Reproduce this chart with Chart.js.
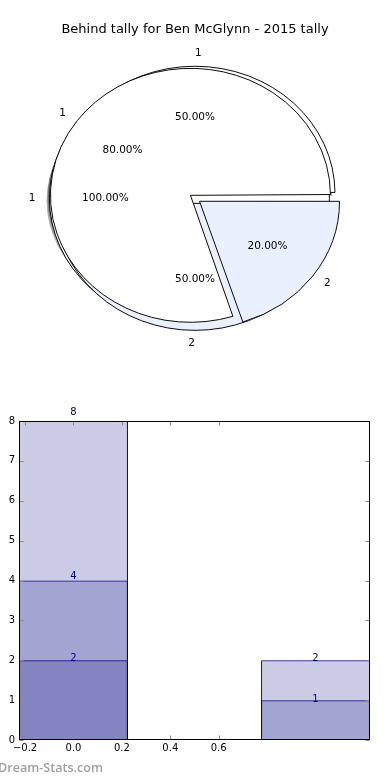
<!DOCTYPE html>
<html>
<head>
<meta charset="utf-8">
<script src="https://cdn.jsdelivr.net/npm/chart.js@4.4.0/dist/chart.umd.min.js"></script>
<style>
  html, body { margin: 0; padding: 0; background: #fff; }
  body { width: 390px; height: 780px; position: relative; overflow: hidden; }
  .pie { position: absolute; left: 0; top: 0; width: 390px; height: 390px; }
  #barBox { position: absolute; left: 0; top: 390px; width: 390px; height: 390px; }
  #mark { position: absolute; left: -2px; top: 759px; font: 600 12.6px "Open Sans", sans-serif; color: #a0a0a0; white-space: nowrap; }
</style>
</head>
<body>
<div class="pie"><canvas id="pieAll"></canvas></div>
<div class="pie"><canvas id="pieHalf"></canvas></div>
<div class="pie"><canvas id="pieMain"></canvas></div>
<div class="pie"><canvas id="pieSmall"></canvas></div>
<div id="barBox"><canvas id="bars"></canvas></div>
<div id="mark">Dream-Stats.com</div>

<script>
var chartTitle = 'Behind tally for Ben McGlynn - 2015 tally';

// the three pies sit on top of each other (first one at the bottom)
var pieAllNames = ['1'];
var pieAllValues = [2];
var pieHalfNames = ['1', '2'];
var pieHalfValues = [1, 1];
var pieMainNames = ['1', '2'];
var pieMainValues = [8, 2];
var pieColors = ['#ffffff', '#eaf0fd'];

// bars drawn over each other at the same x
var barPositions = [0, 1];
var barTop = [8, 2];
var barMid = [4, 1];
var barLow = [2, null];
var xLastLabel = 0.6;

var PIE_R = 140;        // horizontal radius in px
var SQUASH = 0.907;     // pie is an ellipse, like the original axes
var EXPLODE = 5.6;      // px each wedge is pushed out
var SHADOW = 2.8;
var FONT = 'DejaVu Sans';

var pies = [];

///*********** Pie helpers ***********///

function growth(arc) {
    // chart.js grows wedges of half a turn or more by offset/4
    return arc.options.offset / 4 * (1 - Math.sin(Math.min(Math.PI, arc.circumference)));
}

function allPies(chart) {
    return pies.indexOf(chart) < 0 ? pies.concat([chart]) : pies;
}

function squashAround(ctx, c) {
    ctx.translate(c.x, c.y);
    ctx.scale(1, SQUASH);
    ctx.translate(-c.x, -c.y);
}

var squash = {
    id: 'squash',
    beforeDatasetsDraw: function (chart) {
        chart.ctx.save();
        squashAround(chart.ctx, chart.getDatasetMeta(0).data[0]);
    },
    afterDatasetsDraw: function (chart) {
        chart.ctx.restore();
    }
};

// shadows of every wedge go under all pies, so the bottom chart draws them
var pieShadows = {
    id: 'pieShadows',
    beforeDatasetsDraw: function (chart) {
        var ctx = chart.ctx;
        allPies(chart).forEach(function (p) {
            var meta = p.getDatasetMeta(0);
            var shown = p.data.datasets[0].shown;
            ctx.save();
            squashAround(ctx, meta.data[0]);
            meta.data.forEach(function (a, i) {
                if (!shown[i]) return;
                var t = a.options.offset / 4;
                var mid = (a.startAngle + a.endAngle) / 2;
                var r = a.outerRadius + growth(a);
                var cx = a.x + Math.cos(mid) * t - SHADOW;
                var cy = a.y + Math.sin(mid) * t + SHADOW;
                ctx.beginPath();
                if (a.circumference < Math.PI * 2 - 1e-6) ctx.moveTo(cx, cy);
                ctx.arc(cx, cy, r, a.startAngle, a.endAngle);
                ctx.closePath();
                ctx.fillStyle = 'rgba(77,77,77,0.5)';
                ctx.fill();
            });
            ctx.restore();
        });
    },
    // a single full wedge gets its edge without the radial seam
    afterDatasetsDraw: function (chart) {
        var ctx = chart.ctx;
        var a = chart.getDatasetMeta(0).data[0];
        ctx.save();
        squashAround(ctx, a);
        ctx.beginPath();
        ctx.arc(a.x, a.y, a.outerRadius, 0, Math.PI * 2);
        ctx.lineWidth = 1;
        ctx.strokeStyle = '#000';
        ctx.stroke();
        ctx.restore();
    }
};

// labels of every pie go above all wedges, so the top chart draws them
var pieLabels = {
    id: 'pieLabels',
    afterDraw: function (chart) {
        var ctx = chart.ctx;
        ctx.save();
        ctx.fillStyle = '#000';
        ctx.font = '10.5px "' + FONT + '"';
        ctx.textBaseline = 'middle';
        allPies(chart).forEach(function (p) {
            var ds = p.data.datasets[0];
            var total = ds.data.reduce(function (s, v) { return s + v; }, 0);
            p.getDatasetMeta(0).data.forEach(function (a, i) {
                if (!ds.shown[i]) return;
                var t = a.options.offset / 4;
                var mid = (a.startAngle + a.endAngle) / 2;
                var r = a.outerRadius + growth(a);
                var cx = a.x + Math.cos(mid) * t;
                var cy = a.y + Math.sin(mid) * t * SQUASH;
                ctx.textAlign = 'center';
                ctx.fillText((ds.data[i] / total * 100).toFixed(2) + '%',
                    cx + Math.cos(mid) * r * 0.6, cy + Math.sin(mid) * r * 0.6 * SQUASH);
                ctx.textAlign = Math.cos(2 * Math.PI - mid) > 0 ? 'left' : 'right';
                ctx.fillText(p.data.labels[i],
                    cx + Math.cos(mid) * r * 1.1, cy + Math.sin(mid) * r * 1.1 * SQUASH);
            });
        });
        ctx.restore();
    }
};

function makePie(id, names, values, shownNames, extra, showTitle) {
    // matplotlib goes anticlockwise from 3 o'clock, chart.js clockwise: reverse
    var labels = names.slice().reverse();
    var data = values.slice().reverse();
    var colors = pieColors.slice(0, names.length).reverse();
    var shown = labels.map(function (n) { return shownNames.indexOf(n) >= 0; });
    var total = data.reduce(function (s, v) { return s + v; }, 0);
    var share = data.filter(function (v, i) { return shown[i]; })[0] / total;
    var whole = data.length === 1;

    // a single full wedge: no offset, shift the area instead
    var offset = whole ? 0 : EXPLODE * 4;
    var grow = whole ? 0 : EXPLODE * (1 - Math.sin(Math.min(Math.PI, 2 * Math.PI * share)));

    var chart = new Chart(document.getElementById(id), {
        type: 'pie',
        data: {
            labels: labels,
            datasets: [{
                data: data,
                shown: shown,
                backgroundColor: colors.map(function (c, i) { return shown[i] ? c : 'rgba(0,0,0,0)'; }),
                borderColor: shown.map(function (s) { return s ? '#000' : 'rgba(0,0,0,0)'; }),
                borderWidth: whole ? 0 : 1,
                offset: offset,
                rotation: 90,
                radius: PIE_R - grow
            }]
        },
        options: {
            responsive: true,
            maintainAspectRatio: false,
            animation: false,
            events: [],
            layout: { padding: { bottom: 31, right: whole ? EXPLODE * 2 : 0 } },
            plugins: {
                legend: { display: false },
                tooltip: { enabled: false },
                title: {
                    display: true,
                    text: chartTitle,
                    color: showTitle ? '#000' : 'rgba(0,0,0,0)',
                    font: { family: FONT, size: 13, weight: 'normal' },
                    padding: { top: 22, bottom: 0 }
                }
            }
        },
        plugins: [squash].concat(extra)
    });
    pies.push(chart);
    return chart;
}

makePie('pieAll', pieAllNames, pieAllValues, ['1'], [pieShadows], false);
makePie('pieHalf', pieHalfNames, pieHalfValues, ['1', '2'], [], false);
makePie('pieMain', pieMainNames, pieMainValues, ['1'], [], false);
makePie('pieSmall', pieMainNames, pieMainValues, ['2'], [pieLabels], true);
pies[0].draw();   // now the shadows of the later pies are known

///*********** Bar chart ***********///

function points(values) {
    return barPositions.map(function (x, i) { return { x: x, y: values[i] }; });
}

var frame = {
    id: 'frame',
    afterDatasetsDraw: function (chart) {
        var ctx = chart.ctx, a = chart.chartArea;
        var xs = chart.scales.x, ys = chart.scales.y;
        var L = Math.round(a.left) + 0.5, R = Math.round(a.right) - 0.5;
        var T = Math.round(a.top) + 0.5, B = Math.round(a.bottom) - 0.5;
        ctx.save();
        ctx.strokeStyle = '#888';
        ctx.lineWidth = 1;
        ctx.beginPath();
        xs.ticks.forEach(function (t) {
            if (t.label === null || t.label === undefined || t.label === '') return;
            var px = Math.round(xs.getPixelForValue(t.value)) + 0.5;
            ctx.moveTo(px, B); ctx.lineTo(px, B - 4);
            ctx.moveTo(px, T); ctx.lineTo(px, T + 4);
        });
        ys.ticks.forEach(function (t) {
            var py = Math.round(ys.getPixelForValue(t.value)) + 0.5;
            ctx.moveTo(L, py); ctx.lineTo(L + 4, py);
            ctx.moveTo(R, py); ctx.lineTo(R - 4, py);
        });
        ctx.stroke();
        ctx.strokeStyle = '#000';
        ctx.strokeRect(L, T, R - L, B - T);
        ctx.restore();
    },
    afterDraw: function (chart) {
        // value labels on the bars
        var ctx = chart.ctx, ys = chart.scales.y;
        ctx.save();
        ctx.fillStyle = '#000080';
        ctx.font = '10px "' + FONT + '"';
        ctx.textAlign = 'center';
        ctx.textBaseline = 'middle';
        chart.data.datasets.forEach(function (ds, i) {
            chart.getDatasetMeta(i).data.forEach(function (bar, j) {
                var v = ds.data[j].y;
                if (v === null) return;
                ctx.fillText(String(v), bar.x, ys.getPixelForValue(v * 1.026));
            });
        });
        ctx.restore();
    }
};

var barStyle = {
    backgroundColor: 'rgba(0,0,128,0.2)',
    borderColor: '#000080',
    borderWidth: 1,
    borderSkipped: false
};

new Chart(document.getElementById('bars'), {
    type: 'bar',
    data: {
        datasets: [
            Object.assign({ data: points(barTop) }, barStyle),
            Object.assign({ data: points(barMid) }, barStyle),
            Object.assign({ data: points(barLow) }, barStyle)
        ]
    },
    options: {
        responsive: true,
        maintainAspectRatio: false,
        animation: false,
        events: [],
        layout: { padding: { top: 31, right: 20, left: 0, bottom: 0 } },
        // chart.js sizes bars from the 0.2 tick spacing here: 2.25 * 0.2 = 0.45 wide
        datasets: { bar: { grouped: false, barPercentage: 2.25, categoryPercentage: 1 } },
        scales: {
            x: {
                type: 'linear',
                offset: false,
                min: -0.225,
                max: 1.225,
                grid: { display: false, drawTicks: false },
                border: { display: false },
                ticks: {
                    stepSize: 0.2,
                    includeBounds: false,
                    maxRotation: 0,
                    autoSkip: false,
                    padding: 2,
                    color: '#000',
                    font: { family: FONT, size: 10 },
                    callback: function (v) {
                        if (v > xLastLabel + 1e-9) return null;
                        return (Math.abs(v) < 1e-9 ? 0 : v).toFixed(1).replace('-', '\u2212');
                    }
                },
                afterFit: function (s) { s.height = 40; }
            },
            y: {
                min: 0,
                max: 8,
                grid: { display: false, drawTicks: false },
                border: { display: false },
                ticks: {
                    stepSize: 1,
                    padding: 4,
                    color: '#000',
                    font: { family: FONT, size: 10 }
                },
                afterFit: function (s) { s.width = 19; }
            }
        },
        plugins: {
            legend: { display: false },
            tooltip: { enabled: false }
        }
    },
    plugins: [frame]
});
</script>
</body>
</html>
